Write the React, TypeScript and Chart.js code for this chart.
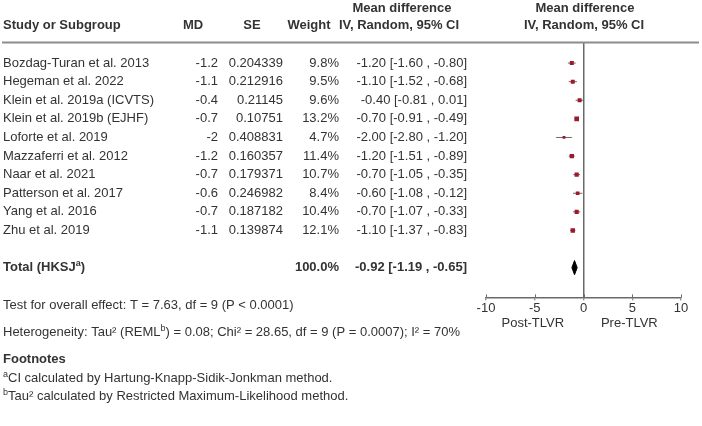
import React, { useEffect, useRef } from "react";
import { Chart, registerables } from "chart.js";

Chart.register(...registerables);

// ---- data ----
const studies = [
  "Bozdag-Turan et al. 2013",
  "Hegeman et al. 2022",
  "Klein et al. 2019a (ICVTS)",
  "Klein et al. 2019b (EJHF)",
  "Loforte et al. 2019",
  "Mazzaferri et al. 2012",
  "Naar et al. 2021",
  "Patterson et al. 2017",
  "Yang et al. 2016",
  "Zhu et al. 2019",
];
const md = [-1.2, -1.1, -0.4, -0.7, -2, -1.2, -0.7, -0.6, -0.7, -1.1];
const se = [0.204339, 0.212916, 0.21145, 0.10751, 0.408831, 0.160357, 0.179371, 0.246982, 0.187182, 0.139874];
const weights = [9.8, 9.5, 9.6, 13.2, 4.7, 11.4, 10.7, 8.4, 10.4, 12.1];
const ciLow = [-1.6, -1.52, -0.81, -0.91, -2.8, -1.51, -1.05, -1.08, -1.07, -1.37];
const ciHigh = [-0.8, -0.68, 0.01, -0.49, -1.2, -0.89, -0.35, -0.12, -0.33, -0.83];
const totalMd = -0.92;
const totalLow = -1.19;
const totalHigh = -0.65;
const totalWeight = 100.0;
const xTickStep = 5;
const favourLabels = ["Post-TLVR", "Pre-TLVR"];
const favourPositions = [-5.2, 4.7];

// ---- layout / style ----
const TOTAL_ROW = 11;
const FONT = '"Liberation Sans", Arial, Helvetica, sans-serif';
const TEXT = "#333333";
const MARKER = "#9b1a2c";
const WHISKER = "#7d6068";
const AXIS = "#6a6a6a";

const fnt = (size: number, bold = false) => `${bold ? "bold " : ""}${size}px ${FONT}`;

type Part = { t: string; sup?: boolean };

function drawRich(ctx: CanvasRenderingContext2D, parts: Part[], x: number, y: number, size: number, bold = false) {
  let cx = x;
  ctx.textAlign = "left";
  for (const p of parts) {
    if (p.sup) {
      ctx.font = fnt(Math.round(size * 0.68), bold);
      ctx.fillText(p.t, cx, y - size * 0.3);
    } else {
      ctx.font = fnt(size, bold);
      ctx.fillText(p.t, cx, y);
    }
    cx += ctx.measureText(p.t).width;
  }
}

const ciText = (m: number, lo: number, hi: number) =>
  `${m.toFixed(2)} [${lo.toFixed(2)} , ${hi.toFixed(2)}]`;

const tablePlugin = {
  id: "forestTable",
  afterDraw(chart: any) {
    const ctx: CanvasRenderingContext2D = chart.ctx;
    const ys = chart.scales.y;
    const xs = chart.scales.x;
    const area = chart.chartArea;
    ctx.save();
    ctx.fillStyle = TEXT;
    ctx.textBaseline = "middle";

    // column headers
    ctx.font = fnt(13, true);
    ctx.textAlign = "left";
    ctx.fillText("Study or Subgroup", 3, 25);
    ctx.textAlign = "center";
    ctx.fillText("MD", 193, 25);
    ctx.fillText("SE", 252, 25);
    ctx.fillText("Weight", 309, 25);
    ctx.fillText("Mean difference", 402, 8);
    ctx.fillText("IV, Random, 95% CI", 399, 25);
    ctx.fillText("Mean difference", 585, 8);
    ctx.fillText("IV, Random, 95% CI", 584, 25);

    // header rule
    ctx.strokeStyle = "#8c8c8c";
    ctx.lineWidth = 2;
    ctx.beginPath();
    ctx.moveTo(2, 42.5);
    ctx.lineTo(699, 42.5);
    ctx.stroke();

    // study rows
    ctx.font = fnt(13);
    studies.forEach((name, i) => {
      const py = ys.getPixelForValue(i);
      ctx.textAlign = "left";
      ctx.fillText(name, 3, py);
      ctx.textAlign = "right";
      ctx.fillText(String(md[i]), 218, py);
      ctx.fillText(String(se[i]), 283, py);
      ctx.fillText(`${weights[i].toFixed(1)}%`, 339, py);
      ctx.fillText(ciText(md[i], ciLow[i], ciHigh[i]), 467, py);
    });

    // pooled row
    const ty = ys.getPixelForValue(TOTAL_ROW);
    drawRich(ctx, [{ t: "Total (HKSJ" }, { t: "a", sup: true }, { t: ")" }], 3, ty, 13, true);
    ctx.font = fnt(13, true);
    ctx.textAlign = "right";
    ctx.fillText(`${totalWeight.toFixed(1)}%`, 339, ty);
    ctx.fillText(ciText(totalMd, totalLow, totalHigh), 467, ty);

    // notes below the table
    ctx.fillStyle = TEXT;
    drawRich(ctx, [{ t: "Test for overall effect: T = 7.63, df = 9 (P < 0.0001)" }], 3, 305, 13);
    drawRich(
      ctx,
      [
        { t: "Heterogeneity: Tau² (REML" },
        { t: "b", sup: true },
        { t: ") = 0.08; Chi² = 28.65, df = 9 (P = 0.0007); I² = 70%" },
      ],
      3,
      332,
      13
    );
    drawRich(ctx, [{ t: "Footnotes" }], 3, 359, 13, true);
    drawRich(ctx, [{ t: "a", sup: true }, { t: "CI calculated by Hartung-Knapp-Sidik-Jonkman method." }], 3, 378, 13);
    drawRich(ctx, [{ t: "b", sup: true }, { t: "Tau² calculated by Restricted Maximum-Likelihood method." }], 3, 396, 13);

    // tick marks crossing the axis line (upper half)
    ctx.strokeStyle = AXIS;
    ctx.lineWidth = 1;
    xs.ticks.forEach((t: any) => {
      const px = Math.round(xs.getPixelForValue(t.value)) + 0.5;
      ctx.beginPath();
      ctx.moveTo(px, area.bottom - 3);
      ctx.lineTo(px, area.bottom);
      ctx.stroke();
    });

    // favour labels under the axis
    ctx.fillStyle = TEXT;
    ctx.font = fnt(13);
    ctx.textAlign = "center";
    favourLabels.forEach((lab, i) => {
      ctx.fillText(lab, xs.getPixelForValue(favourPositions[i]), 323);
    });
    ctx.restore();
  },
};

export default function App() {
  const ref = useRef<HTMLCanvasElement | null>(null);

  useEffect(() => {
    document.body.style.margin = "0";
    const canvas = ref.current;
    if (!canvas) return;

    // confidence-interval whiskers, separated by gaps
    const whiskers: any[] = [];
    studies.forEach((_, i) => {
      whiskers.push({ x: ciLow[i], y: i }, { x: ciHigh[i], y: i }, { x: null, y: null });
    });

    const points = studies.map((_, i) => ({ x: md[i], y: i }));
    const radii = weights.map((w) => 0.9 * Math.sqrt(w));

    const h = 0.38;
    const diamond = [
      { x: totalLow, y: TOTAL_ROW },
      { x: totalMd, y: TOTAL_ROW - h },
      { x: totalHigh, y: TOTAL_ROW },
      { x: totalMd, y: TOTAL_ROW + h },
      { x: totalLow, y: TOTAL_ROW },
    ];

    const chart = new Chart(canvas, {
      type: "scatter",
      data: {
        datasets: [
          {
            type: "line",
            data: whiskers,
            borderColor: WHISKER,
            borderWidth: 1,
            pointRadius: 0,
            spanGaps: false,
            fill: false,
            order: 3,
          } as any,
          {
            type: "scatter",
            data: points,
            pointStyle: "rect",
            pointRadius: radii,
            backgroundColor: MARKER,
            borderWidth: 0,
            order: 1,
          } as any,
          {
            type: "line",
            data: diamond,
            borderColor: "#000",
            backgroundColor: "#000",
            borderWidth: 1,
            pointRadius: 0,
            tension: 0,
            fill: "shape",
            order: 2,
          } as any,
        ],
      },
      options: {
        animation: false,
        responsive: false,
        devicePixelRatio: 1,
        layout: { padding: { left: 486, right: 21, top: 43, bottom: 110 } },
        plugins: { legend: { display: false }, tooltip: { enabled: false } },
        scales: {
          x: {
            type: "linear",
            min: -10,
            max: 10,
            ticks: {
              stepSize: xTickStep,
              color: TEXT,
              padding: 0,
              font: { family: FONT, size: 13 },
              maxRotation: 0,
            },
            grid: {
              drawOnChartArea: true,
              drawTicks: true,
              tickLength: 3,
              tickColor: AXIS,
              tickWidth: 1,
              lineWidth: 1.5,
              color: (c: any) => (c.tick && c.tick.value === 0 ? AXIS : "rgba(0,0,0,0)"),
            },
            border: { display: true, color: AXIS, width: 1.5 },
          },
          y: {
            type: "linear",
            display: false,
            reverse: true,
            min: -1.08,
            max: 12.6,
          },
        },
      } as any,
      plugins: [tablePlugin],
    });

    return () => chart.destroy();
  }, []);

  return (
    <div style={{ position: "absolute", left: 0, top: 0, width: 702, height: 426, background: "#fff" }}>
      <canvas ref={ref} width={702} height={426} style={{ display: "block", width: 702, height: 426 }} />
    </div>
  );
}
